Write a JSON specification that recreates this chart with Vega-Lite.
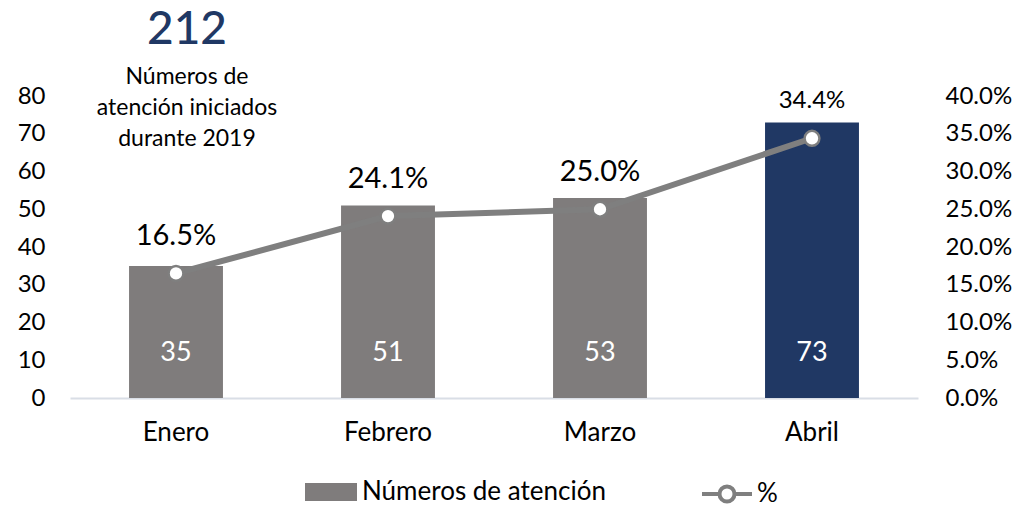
{
  "$schema": "https://vega.github.io/schema/vega-lite/v6.json",
  "autosize": "none",
  "width": 848,
  "height": 302,
  "padding": {"left": 70, "top": 96, "right": 106, "bottom": 111},
  "config": {
    "font": "Lato",
    "view": {"stroke": null},
    "axis": {"grid": false, "ticks": false, "labelColor": "#000000", "labelFontSize": 24, "labelFont": "Lato", "labelOverlap": false},
    "title": {"font": "Lato", "subtitleFont": "Lato"}
  },
  "title": {
    "text": "212",
    "subtitle": ["Números de", "atención iniciados", "durante 2019"],
    "anchor": "start",
    "frame": "group",
    "align": "center",
    "dx": 117,
    "offset": -68,
    "fontSize": 46,
    "fontWeight": 500,
    "color": "#203864",
    "subtitleFontSize": 23,
    "subtitleColor": "#000000",
    "subtitleLineHeight": 31,
    "subtitlePadding": 12
  },
  "data": {
    "values": [
      {"mes": "Enero", "num": 35, "pct": 0.165},
      {"mes": "Febrero", "num": 51, "pct": 0.241},
      {"mes": "Marzo", "num": 53, "pct": 0.25},
      {"mes": "Abril", "num": 73, "pct": 0.344}
    ]
  },
  "encoding": {
    "x": {
      "field": "mes",
      "type": "nominal",
      "sort": null,
      "scale": {"paddingInner": 0, "paddingOuter": 0},
      "axis": {"title": null, "labelAngle": 0, "labelPadding": 21, "domain": true, "domainColor": "#d9dee6", "domainWidth": 2, "labelFontSize": 26}
    }
  },
  "layer": [
    {
      "layer": [
        {
          "mark": {"type": "bar", "width": {"band": 0.443}},
          "encoding": {
            "y": {
              "field": "num",
              "type": "quantitative",
              "scale": {"domain": [0, 80], "nice": false},
              "axis": {"title": null, "orient": "left", "values": [0, 10, 20, 30, 40, 50, 60, 70, 80], "tickCount": 9, "domain": false, "labelPadding": 25, "labelOverlap": false}
            },
            "fill": {
              "datum": "Números de atención",
              "scale": {"domain": ["Números de atención"], "range": ["#7f7c7c"]},
              "condition": {"test": "datum.mes === 'Abril'", "value": "#203864"},
              "legend": {
                "title": null,
                "orient": "none",
                "legendX": 235,
                "legendY": 370,
                "padding": 0,
                "symbolType": "M-1,-0.346L1,-0.346L1,0.346L-1,0.346Z",
                "symbolSize": 2704,
                "symbolStrokeWidth": 0,
                "labelFontSize": 26,
                "labelLimit": 0,
                "labelColor": "#000000",
                "labelOffset": 5
              }
            }
          }
        },
        {
          "mark": {"type": "text", "color": "#ffffff", "fontSize": 27, "baseline": "middle"},
          "encoding": {
            "y": {"datum": 12, "type": "quantitative",
              "axis": {"title": null, "orient": "left", "values": [0, 10, 20, 30, 40, 50, 60, 70, 80], "tickCount": 9, "domain": false, "labelPadding": 25, "labelOverlap": false}},
            "text": {"field": "num", "type": "quantitative"}
          }
        }
      ]
    },
    {
      "layer": [
        {
          "mark": {"type": "line", "strokeWidth": 6},
          "encoding": {
            "y": {
              "field": "pct",
              "type": "quantitative",
              "scale": {"domain": [0, 0.4], "nice": false},
              "axis": {"title": null, "orient": "right", "format": ".1%", "values": [0, 0.05, 0.1, 0.15, 0.2, 0.25, 0.3, 0.35, 0.4], "tickCount": 9, "domain": false, "labelPadding": 27, "labelOverlap": false}
            },
            "stroke": {
              "datum": "%",
              "scale": {"domain": ["%"], "range": ["#7f7f7f"]},
              "legend": {
                "title": null,
                "orient": "none",
                "legendX": 630,
                "legendY": 371,
                "padding": 0,
                "symbolType": "M-1,0L-0.3,0M0.3,0L1,0M-0.3,0A0.3,0.3 0 1,1 0.3,0A0.3,0.3 0 1,1 -0.3,0Z",
                "symbolSize": 2500,
                "symbolStrokeWidth": 4,
                "symbolFillColor": "#ffffff",
                "labelFontSize": 26,
                "labelLimit": 0,
                "labelColor": "#000000",
                "labelOffset": 3
              }
            }
          }
        },
        {
          "mark": {"type": "point", "filled": true, "fill": "#ffffff", "stroke": "#7f7f7f", "strokeWidth": 2.5, "size": 220, "opacity": 1},
          "encoding": {
            "y": {"field": "pct", "type": "quantitative",
              "axis": {"title": null, "orient": "right", "format": ".1%", "values": [0, 0.05, 0.1, 0.15, 0.2, 0.25, 0.3, 0.35, 0.4], "tickCount": 9, "domain": false, "labelPadding": 27, "labelOverlap": false}}
          }
        },
        {
          "mark": {"type": "text", "color": "#000000", "dy": -37, "baseline": "middle"},
          "encoding": {
            "y": {"field": "pct", "type": "quantitative",
              "axis": {"title": null, "orient": "right", "format": ".1%", "values": [0, 0.05, 0.1, 0.15, 0.2, 0.25, 0.3, 0.35, 0.4], "tickCount": 9, "domain": false, "labelPadding": 27, "labelOverlap": false}},
            "text": {"field": "pct", "type": "quantitative", "format": ".1%"},
            "size": {"condition": {"test": "datum.mes === 'Abril'", "value": 24}, "value": 29}
          }
        }
      ]
    }
  ],
  "resolve": {"scale": {"y": "independent"}}
}
